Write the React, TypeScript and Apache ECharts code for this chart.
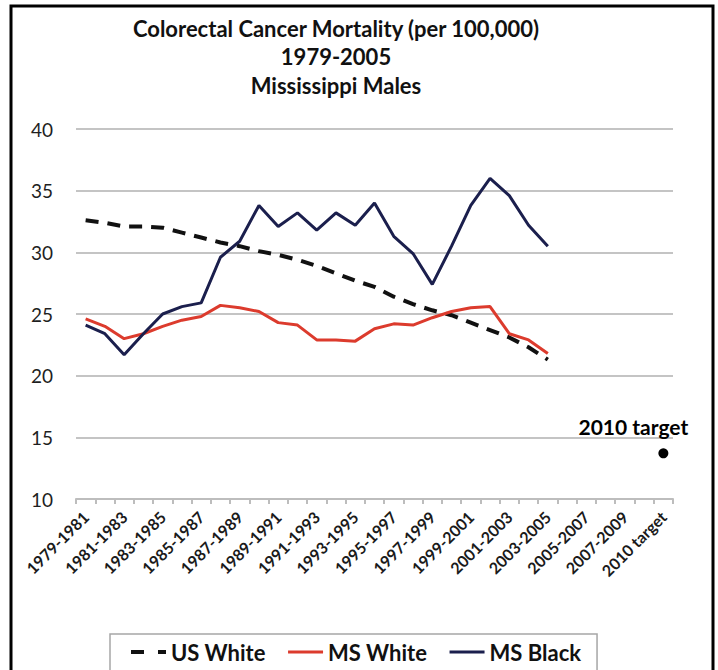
import React, { useEffect, useRef } from 'react';
import * as echarts from 'echarts';

const categories = [
  '1979-1981', '1980-1982', '1981-1983', '1982-1984', '1983-1985', '1984-1986',
  '1985-1987', '1986-1988', '1987-1989', '1988-1990', '1989-1991', '1990-1992',
  '1991-1993', '1992-1994', '1993-1995', '1994-1996', '1995-1997', '1996-1998',
  '1997-1999', '1998-2000', '1999-2001', '2000-2002', '2001-2003', '2002-2004',
  '2003-2005', '2004-2006', '2005-2007', '2006-2008', '2007-2009', '2008-2010',
  '2010 target',
];

const usWhite = [
  32.6, 32.4, 32.1, 32.1, 32.0, 31.6, 31.2, 30.8, 30.5, 30.1, 29.8, 29.4, 28.9,
  28.3, 27.7, 27.2, 26.4, 25.8, 25.3, 24.9, 24.3, 23.7, 23.1, 22.3, 21.3,
];

const msWhite = [
  24.6, 24.0, 23.0, 23.4, 24.0, 24.5, 24.8, 25.7, 25.5, 25.2, 24.3, 24.1, 22.9,
  22.9, 22.8, 23.8, 24.2, 24.1, 24.7, 25.2, 25.5, 25.6, 23.4, 22.9, 21.8,
];

const msBlack = [
  24.1, 23.4, 21.7, 23.4, 25.0, 25.6, 25.9, 29.6, 30.9, 33.8, 32.1, 33.2, 31.8,
  33.2, 32.2, 34.0, 31.3, 29.9, 27.4, 30.5, 33.8, 36.0, 34.6, 32.2, 30.5,
];

const targetCategory = '2010 target';
const targetValue = 13.7;

const seriesNames = ['US White', 'MS White', 'MS Black'];
const titleLines = ['Colorectal Cancer Mortality (per 100,000)', '1979-2005', 'Mississippi Males'];

const FONT = 'Lato, "Open Sans", sans-serif';
const BLACK = '#111111';
const RED = '#dc3b2d';
const NAVY = '#1b1f4d';

export default function App() {
  const ref = useRef<HTMLDivElement>(null);

  useEffect(() => {
    if (!ref.current) return;
    const chart = echarts.init(ref.current, undefined, { renderer: 'svg' });
    chart.setOption({
      animation: false,
      backgroundColor: '#ffffff',
      textStyle: { fontFamily: FONT },
      title: {
        text: titleLines.join('\n'),
        left: 336,
        top: 14,
        padding: 0,
        textAlign: 'center',
        textStyle: {
          fontFamily: FONT,
          fontSize: 22,
          fontWeight: 'bold',
          color: '#111',
          lineHeight: 28.5,
        },
      },
      graphic: [
        {
          type: 'rect',
          shape: { x: 11, y: 6, width: 702, height: 720 },
          style: { fill: 'none', stroke: '#000', lineWidth: 3 },
          silent: true,
          z: 100,
        },
      ],
      legend: {
        data: [
          { name: seriesNames[0], lineStyle: { color: BLACK, width: 4, type: [13, 14] } },
          { name: seriesNames[1], lineStyle: { color: RED, width: 3, type: 'solid' } },
          { name: seriesNames[2], lineStyle: { color: NAVY, width: 3, type: 'solid' } },
        ],
        left: 110,
        top: 634,
        orient: 'horizontal',
        padding: [7, 16, 40, 19],
        itemGap: 21,
        itemWidth: 35,
        itemHeight: 14,
        itemStyle: { opacity: 0, borderWidth: 0 },
        borderColor: '#a6a6a6',
        borderWidth: 1.5,
        backgroundColor: '#fff',
        textStyle: { fontFamily: FONT, fontSize: 22, fontWeight: 'bold', color: '#111' },
      },
      grid: {
        left: 76,
        right: 45,
        top: 129,
        bottom: 171,
        containLabel: false,
        outerBoundsMode: 'none',
      },
      xAxis: {
        type: 'category',
        data: categories,
        boundaryGap: true,
        axisLine: { show: true, lineStyle: { color: '#bdbdbd', width: 2 } },
        axisTick: { show: true, interval: 0, length: 5, lineStyle: { color: '#bdbdbd', width: 2 } },
        axisLabel: {
          interval: 1,
          rotate: 45,
          margin: 15,
          fontFamily: FONT,
          fontSize: 16,
          fontWeight: 'bold',
          color: '#1a1a1a',
        },
        splitLine: { show: false },
      },
      yAxis: {
        type: 'value',
        min: 10,
        max: 40,
        interval: 5,
        axisLine: { show: false },
        axisTick: { show: false },
        axisLabel: {
          margin: 23,
          fontFamily: FONT,
          fontSize: 19,
          color: '#1f1f1f',
        },
        splitLine: { lineStyle: { color: '#c4c4c4', width: 2 } },
      },
      series: [
        {
          name: seriesNames[0],
          type: 'line',
          data: usWhite,
          symbol: 'none',
          lineStyle: { color: BLACK, width: 4, type: [13, 9] },
          itemStyle: { color: BLACK },
          z: 3,
        },
        {
          name: seriesNames[1],
          type: 'line',
          data: msWhite,
          symbol: 'none',
          lineStyle: { color: RED, width: 3 },
          itemStyle: { color: RED },
          z: 4,
        },
        {
          name: seriesNames[2],
          type: 'line',
          data: msBlack,
          symbol: 'none',
          lineStyle: { color: NAVY, width: 3 },
          itemStyle: { color: NAVY },
          z: 5,
        },
        {
          name: targetCategory,
          type: 'scatter',
          data: [[targetCategory, targetValue]],
          symbol: 'circle',
          symbolSize: 10,
          itemStyle: { color: '#000', opacity: 1 },
          label: {
            show: true,
            position: 'top',
            offset: [-30, -6],
            formatter: targetCategory,
            fontFamily: FONT,
            fontSize: 21,
            fontWeight: 'bold',
            color: '#000',
            opacity: 1,
            textBorderWidth: 0,
          },
          z: 6,
        },
      ],
    });
    return () => chart.dispose();
  }, []);

  return (
    <div
      ref={ref}
      style={{ position: 'fixed', left: 0, top: 0, width: 718, height: 670, background: '#fff' }}
    />
  );
}
